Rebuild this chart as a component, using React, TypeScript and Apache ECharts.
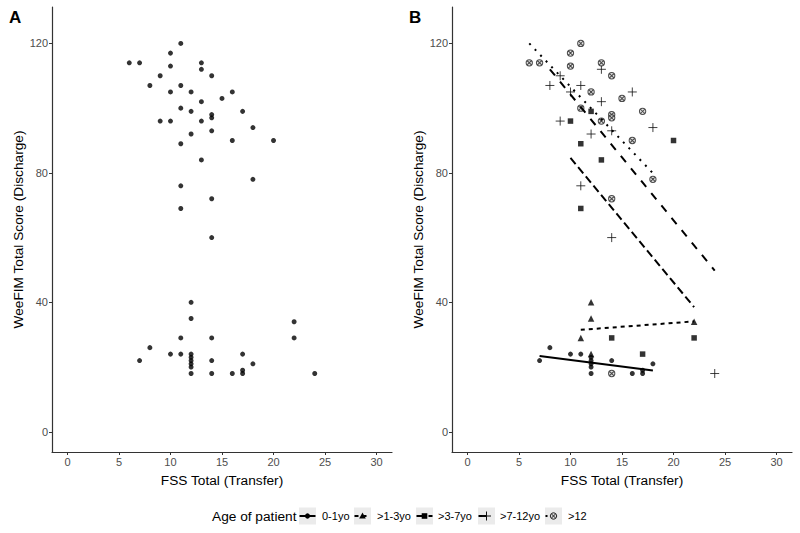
import React, { useEffect, useRef } from 'react';
import * as echarts from 'echarts';

const FONT = '"Liberation Sans", Arial, Helvetica, sans-serif';

// Axis ticks
const xTicks = [0, 5, 10, 15, 20, 25, 30];
const yTicks = [0, 40, 80, 120];

// Groups (age of patient)
const groupNames = ['0-1yo', '>1-3yo', '>3-7yo', '>7-12yo', '>12'];

// Points [FSS Total (Transfer), WeeFIM Total Score (Discharge)]
const age0to1 = [
  [7, 22], [8, 26], [10, 24], [11, 24], [12, 23], [12, 22], [12, 21], [12, 20], [12, 18],
  [14, 22], [16, 18], [17, 19], [17, 18], [18, 21],
];
const age1to3 = [[12, 40], [12, 35], [11, 29], [22, 34], [12, 24]];
const age3to7 = [[10, 96], [12, 99], [11, 89], [13, 84], [20, 90], [11, 69], [14, 29], [17, 24], [22, 29]];
const age7to12 = [
  [13, 112], [9, 110], [8, 107], [11, 107], [10, 105], [13, 102], [16, 105], [9, 96],
  [12, 92], [14, 93], [18, 94], [11, 76], [14, 60], [24, 18],
];
const ageOver12 = [
  [6, 114], [7, 114], [10, 117], [11, 120], [10, 113], [13, 114], [14, 110], [12, 105],
  [15, 103], [11, 100], [13, 96], [14, 98], [14, 97], [17, 99], [16, 90], [18, 78], [14, 72], [14, 18],
];

// Fitted lines (end points)
const fit0to1 = [[7, 23.4], [18, 18.9]];
const fit1to3 = [[11, 31.5], [22, 34.1]];
const fit3to7 = [[10, 84.6], [22, 38.5]];
const fit7to12 = [[8, 112], [24, 49.8]];
const fitOver12 = [[6, 120], [18, 79.9]];

const groupPoints = [age0to1, age1to3, age3to7, age7to12, ageOver12];
const groupFits = [fit0to1, fit1to3, fit3to7, fit7to12, fitOver12];
const allPoints = ([] as number[][]).concat(...groupPoints);

// Styles
const dashes: (number[] | 'solid')[] = ['solid', [4, 4], [8, 4], [8, 8], [2, 6]];
const plusPath = 'path://M5,0L5,10M0,5L10,5';
const circleXPath = 'path://M10,5A5,5,0,1,1,0,5A5,5,0,1,1,10,5ZM1.6,1.6L8.4,8.4M8.4,1.6L1.6,8.4';

const symbolStyles: any[] = [
  { symbol: 'circle', symbolSize: 5, itemStyle: { color: '#000' } },
  { symbol: 'triangle', symbolSize: 6.5, itemStyle: { color: '#000' } },
  { symbol: 'rect', symbolSize: 5.5, itemStyle: { color: '#000' } },
  { symbol: plusPath, symbolSize: 9, itemStyle: { color: 'transparent', borderColor: '#111', borderWidth: 1 } },
  { symbol: circleXPath, symbolSize: 6.3, itemStyle: { color: '#d9d9d9', borderColor: '#222', borderWidth: 1 } },
];

function xAxisCfg(gridIndex: number) {
  return {
    type: 'value', gridIndex, min: -1.5, max: 31.5,
    name: 'FSS Total (Transfer)', nameLocation: 'middle', nameGap: 21,
    nameTextStyle: { color: '#000', fontSize: 13.7, fontFamily: FONT },
    axisLine: { show: true, onZero: false, lineStyle: { color: '#333', width: 1.2 } },
    axisTick: { show: true, length: 3, customValues: xTicks, lineStyle: { color: '#333', width: 1 } },
    axisLabel: { show: true, customValues: xTicks, margin: 4, color: '#4d4d4d', fontSize: 11, fontFamily: FONT },
    splitLine: { show: false },
  };
}

function yAxisCfg(gridIndex: number) {
  return {
    type: 'value', gridIndex, min: -6.25, max: 131.25,
    name: 'WeeFIM Total Score (Discharge)', nameLocation: 'middle', nameGap: 27,
    nameTextStyle: { color: '#000', fontSize: 13.7, fontFamily: FONT },
    axisLine: { show: true, onZero: false, lineStyle: { color: '#333', width: 1.2 } },
    axisTick: { show: true, length: 3, customValues: yTicks, lineStyle: { color: '#333', width: 1 } },
    axisLabel: { show: true, customValues: yTicks, margin: 4, color: '#4d4d4d', fontSize: 11, fontFamily: FONT },
    splitLine: { show: false },
  };
}

function legendGraphics() {
  const els: any[] = [];
  const cy = 516;
  const keyX = [299, 354, 416, 478, 545];
  const labelX = [322, 377, 438, 500, 568];
  const size = 17;
  els.push({
    type: 'text', x: 212, y: cy,
    style: { text: 'Age of patient', fill: '#000', font: `13.7px ${FONT}`, verticalAlign: 'middle', align: 'left' },
  });
  groupNames.forEach((name, i) => {
    const x0 = keyX[i];
    const cx = x0 + size / 2;
    els.push({ type: 'rect', shape: { x: x0, y: cy - size / 2, width: size, height: size }, style: { fill: '#ebebeb' } });
    const d = dashes[i];
    els.push({
      type: 'line', shape: { x1: x0 + 0.5, y1: cy, x2: x0 + size - 0.5, y2: cy },
      style: { stroke: '#000', lineWidth: 2, lineDash: d === 'solid' ? null : d },
    });
    if (i === 0) {
      els.push({ type: 'circle', shape: { cx, cy, r: 2.6 }, style: { fill: '#000' } });
    } else if (i === 1) {
      els.push({ type: 'polygon', shape: { points: [[cx, cy - 3.4], [cx + 3.3, cy + 2.4], [cx - 3.3, cy + 2.4]] }, style: { fill: '#000' } });
    } else if (i === 2) {
      els.push({ type: 'rect', shape: { x: cx - 2.8, y: cy - 2.8, width: 5.6, height: 5.6 }, style: { fill: '#000' } });
    } else if (i === 3) {
      els.push({ type: 'line', shape: { x1: cx, y1: cy - 4.5, x2: cx, y2: cy + 4.5 }, style: { stroke: '#111', lineWidth: 1 } });
      els.push({ type: 'line', shape: { x1: cx - 4.5, y1: cy, x2: cx + 4.5, y2: cy }, style: { stroke: '#111', lineWidth: 1 } });
    } else {
      els.push({ type: 'circle', shape: { cx, cy, r: 3.2 }, style: { fill: '#d9d9d9', stroke: '#222', lineWidth: 1 } });
      els.push({ type: 'line', shape: { x1: cx - 2.2, y1: cy - 2.2, x2: cx + 2.2, y2: cy + 2.2 }, style: { stroke: '#222', lineWidth: 1 } });
      els.push({ type: 'line', shape: { x1: cx + 2.2, y1: cy - 2.2, x2: cx - 2.2, y2: cy + 2.2 }, style: { stroke: '#222', lineWidth: 1 } });
    }
    els.push({
      type: 'text', x: labelX[i], y: cy,
      style: { text: name, fill: '#000', font: `11px ${FONT}`, verticalAlign: 'middle', align: 'left' },
    });
  });
  els.push({ type: 'text', x: 9, y: 17, style: { text: 'A', fill: '#000', font: `bold 17px ${FONT}`, verticalAlign: 'middle' } });
  els.push({ type: 'text', x: 409, y: 17, style: { text: 'B', fill: '#000', font: `bold 17px ${FONT}`, verticalAlign: 'middle' } });
  return els;
}

function buildOption() {
  const series: any[] = [
    {
      type: 'scatter', xAxisIndex: 0, yAxisIndex: 0, data: allPoints,
      symbol: 'circle', symbolSize: 5, itemStyle: { color: '#000' }, silent: true,
    },
  ];
  groupNames.forEach((name, i) => {
    series.push({
      type: 'scatter', name, xAxisIndex: 1, yAxisIndex: 1, data: groupPoints[i],
      ...symbolStyles[i], silent: true,
    });
  });
  groupNames.forEach((name, i) => {
    const d = dashes[i];
    series.push({
      type: 'line', name: name + ' fit', xAxisIndex: 1, yAxisIndex: 1, data: groupFits[i],
      symbol: 'none', silent: true, z: 3,
      lineStyle: { color: '#000', width: 2, type: d, cap: 'butt' },
    });
  });
  return {
    animation: false,
    backgroundColor: '#ffffff',
    textStyle: { fontFamily: FONT },
    grid: [
      { left: 52, top: 7, width: 340, height: 445, containLabel: false, outerBoundsMode: 'none' },
      { left: 452, top: 7, width: 340, height: 445, containLabel: false, outerBoundsMode: 'none' },
    ],
    xAxis: [xAxisCfg(0), xAxisCfg(1)],
    yAxis: [yAxisCfg(0), yAxisCfg(1)],
    series,
    graphic: legendGraphics(),
  };
}

export default function App() {
  const ref = useRef<HTMLDivElement>(null);
  useEffect(() => {
    if (!ref.current) return;
    const chart = echarts.init(ref.current, null, { renderer: 'svg' });
    chart.setOption(buildOption() as any);
    return () => chart.dispose();
  }, []);
  return (
    <div
      ref={ref}
      style={{ position: 'fixed', left: 0, top: 0, width: 800, height: 533, background: '#fff' }}
    />
  );
}
